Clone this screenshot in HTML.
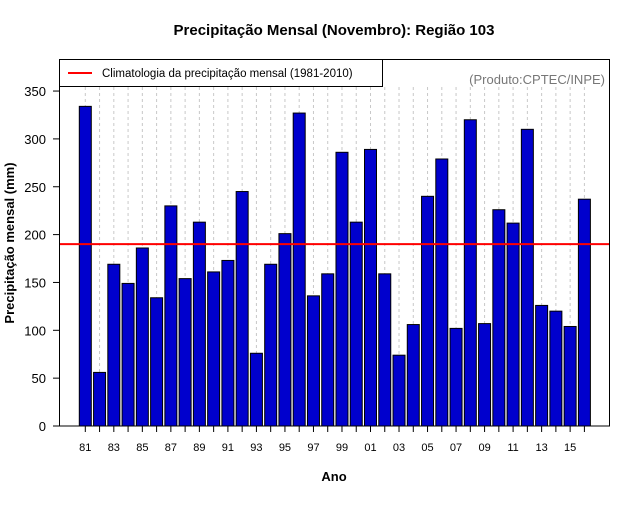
<!DOCTYPE html>
<html><head><meta charset="utf-8"><style>
body{margin:0;background:#fff;font-family:"Liberation Sans",sans-serif}
</style></head><body>
<svg id="chart" width="640" height="500" xmlns="http://www.w3.org/2000/svg" font-family="Liberation Sans, sans-serif">
<rect width="640" height="500" fill="#fff"/>
<text x="334" y="35" text-anchor="middle" font-size="15" font-weight="bold">Precipitação Mensal (Novembro): Região 103</text>
<g id="grid"></g>
<g id="bars"></g>
<g id="clim"></g>
<rect x="59.5" y="59.5" width="550" height="366.5" fill="none" stroke="#000"/>
<g id="axes"></g>
<g>
<rect x="59.5" y="59.5" width="323" height="27" fill="#fff" stroke="#000"/>
<line x1="68" y1="73" x2="92" y2="73" stroke="#f00" stroke-width="2"/>
<text x="102" y="77" font-size="11.5">Climatologia da precipitação mensal (1981-2010)</text>
</g>
<text x="605" y="84" text-anchor="end" font-size="13" fill="#777">(Produto:CPTEC/INPE)</text>
<text transform="translate(14,243) rotate(-90)" text-anchor="middle" font-size="13" font-weight="bold">Precipitação mensal (mm)</text>
<text x="334" y="481" text-anchor="middle" font-size="13" font-weight="bold">Ano</text>
</svg>
<script>
const years=[81,82,83,84,85,86,87,88,89,90,91,92,93,94,95,96,97,98,99,0,1,2,3,4,5,6,7,8,9,10,11,12,13,14,15,16];
const values=[334,56,169,149,186,134,230,154,213,161,173,245,76,169,201,327,136,159,286,213,289,159,74,106,240,279,102,320,107,226,212,310,126,120,104,237];
const climatology=190;
const yTicks=[0,50,100,150,200,250,300,350];
const NS="http://www.w3.org/2000/svg";
const x0=85.3,step=14.26,yb=426,ppu=0.957;
const xs=i=>x0+i*step, ys=v=>yb-v*ppu;
function mk(t,a,p){const e=document.createElementNS(NS,t);for(const k in a)e.setAttribute(k,a[k]);document.getElementById(p).appendChild(e);return e;}
years.forEach((y,i)=>{
 const g=mk('line',{x1:xs(i),x2:xs(i),y1:87,y2:426,stroke:'#c8c8c8','stroke-dasharray':'3,3'},'grid');
 
 
 const b=mk('rect',{x:xs(i)-6,y:ys(values[i]),width:12,height:values[i]*ppu,fill:'#0000cd',stroke:'#000','stroke-width':1},'bars');
 
 
 const t=mk('line',{x1:xs(i),x2:xs(i),y1:426,y2:432,stroke:'#000'},'axes');
 
 
 if(i%2===0){const l=mk('text',{x:xs(i),y:451,'text-anchor':'middle','font-size':'11'},'axes');l.textContent=String(y).padStart(2,'0');
 
 }
});
const c=mk('line',{x1:59.5,x2:609.5,y1:ys(climatology),y2:ys(climatology),stroke:'#f00','stroke-width':2},'clim');


yTicks.forEach(v=>{
 const t=mk('line',{x1:53,x2:59.5,y1:ys(v),y2:ys(v),stroke:'#000'},'axes');
 
 
 const l=mk('text',{x:46,y:ys(v)+5,'text-anchor':'end','font-size':'13'},'axes');l.textContent=v;
 
 
});
</script>
</body></html>
